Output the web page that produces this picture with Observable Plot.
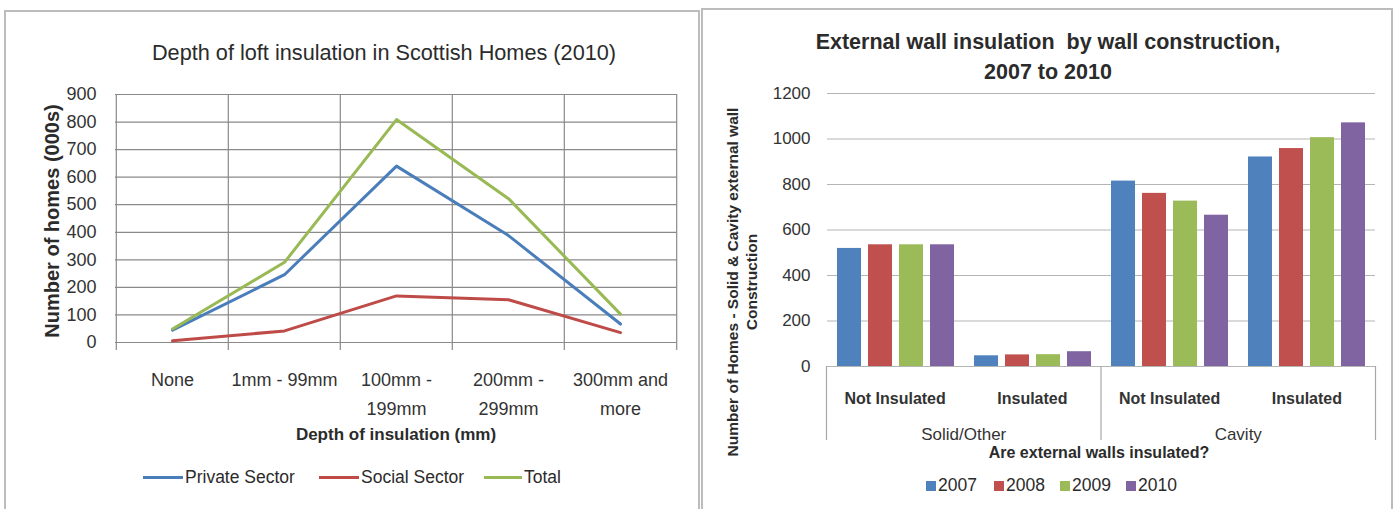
<!DOCTYPE html>
<html>
<head>
<meta charset="utf-8">
<script src="https://cdn.jsdelivr.net/npm/d3@7"></script>
<script src="https://cdn.jsdelivr.net/npm/@observablehq/plot@0.6"></script>
<style>
  body { margin: 0; background: #fff; }
  #root { position: relative; width: 1398px; height: 509px; overflow: hidden;
          font-family: "Liberation Sans", Arial, sans-serif; color: #2b2b2b; }
  .panel { position: absolute; border: 2px solid #bcbcbc; box-sizing: border-box; }
  .t { position: absolute; white-space: pre; line-height: 1; }
  .abs { position: absolute; }
  .abs svg { display: block; }
</style>
</head>
<body>
<div id="root"></div>
<script>
// ---------- Left chart data ----------
const depthCategories = ["None", "1mm - 99mm", "100mm -\n199mm", "200mm -\n299mm", "300mm and\nmore"];
const seriesNames = ["Private Sector", "Social Sector", "Total"];
const privateSector = [45, 246, 640, 388, 67];
const socialSector = [6, 42, 169, 155, 36];
const totalHomes = [49, 291, 809, 522, 103];
const leftYTicks = [0, 100, 200, 300, 400, 500, 600, 700, 800, 900];
const lineColors = ["#4a7ebb", "#be4b48", "#98b954"];

// ---------- Right chart data ----------
const wallConstruction = ["Solid/Other", "Cavity"];
const insulationStatus = ["Not Insulated", "Insulated"];
const years = ["2007", "2008", "2009", "2010"];
const solidNotInsulated = [519, 535, 535, 535];
const solidInsulated = [47, 51, 52, 65];
const cavityNotInsulated = [815, 761, 727, 665];
const cavityInsulated = [921, 958, 1006, 1071];
const rightYTicks = [0, 200, 400, 600, 800, 1000, 1200];
const barColors = ["#4f81bd", "#c0504d", "#9bbb59", "#8064a2"];

const FONT = '"Liberation Sans", Arial, sans-serif';
const root = document.getElementById("root");

function panel(left, top, width, height) {
  const d = document.createElement("div");
  d.className = "panel";
  Object.assign(d.style, {left: left + "px", top: top + "px", width: width + "px", height: height + "px"});
  root.appendChild(d);
}
function addText(str, {x, baseline, size, weight = "normal", anchor = "middle", color}) {
  const d = document.createElement("div");
  d.className = "t";
  d.textContent = str;
  d.style.fontSize = size + "px";
  d.style.fontWeight = weight;
  if (color) d.style.color = color;
  d.style.top = (baseline - 0.85 * size) + "px";
  d.style.left = x + "px";
  if (anchor === "middle") d.style.transform = "translateX(-50%)";
  root.appendChild(d);
  return d;
}
function addRotated(str, {cx, cy, size, lh, weight = "bold"}) {
  const d = document.createElement("div");
  d.className = "t";
  d.textContent = str;
  Object.assign(d.style, {fontSize: size + "px", fontWeight: weight, lineHeight: lh + "px",
    textAlign: "center", left: cx + "px", top: cy + "px",
    transform: "translate(-50%,-50%) rotate(-90deg)"});
  root.appendChild(d);
}
function mount(node, left, top) {
  const w = document.createElement("div");
  w.className = "abs";
  w.style.left = left + "px";
  w.style.top = top + "px";
  w.appendChild(node);
  root.appendChild(w);
}

panel(4, 10, 696, 520);
panel(701, 8, 692, 520);

// ---------- Left chart ----------
const seriesValues = [privateSector, socialSector, totalHomes];
const leftRows = seriesNames.flatMap((s, k) =>
  depthCategories.map((c, i) => ({series: s, category: c, value: seriesValues[k][i]})));

const LW = 700, LH = 420, LML = 115, LMR = 23, LMT = 94, LMB = 78;
const step = (LW - LML - LMR) / depthCategories.length;

const leftPlot = Plot.plot({
  width: LW, height: LH,
  marginLeft: LML, marginRight: LMR, marginTop: LMT, marginBottom: LMB,
  style: {fontFamily: FONT, fontSize: "18px", color: "#333", background: "transparent", overflow: "visible"},
  x: {type: "point", domain: depthCategories, padding: 0.5},
  y: {domain: [0, 900]},
  color: {domain: seriesNames, range: lineColors},
  marks: [
    Plot.ruleY(leftYTicks, {stroke: "#8a8a8a", strokeWidth: 1.2}),
    Plot.ruleX(depthCategories, {x: d => d, dx: -step / 2, insetBottom: -8, stroke: "#8a8a8a", strokeWidth: 1.2}),
    Plot.ruleX(depthCategories.slice(-1), {x: d => d, dx: step / 2, insetBottom: -8, stroke: "#8a8a8a", strokeWidth: 1.2}),
    Plot.line(leftRows, {x: "category", y: "value", z: "series", stroke: "series", strokeWidth: 3}),
    Plot.axisY({ticks: leftYTicks, tickSize: 0, tickPadding: 19, label: null, fontSize: 18}),
    Plot.axisX({tickSize: 0, tickPadding: 23, label: null, fontSize: 18, lineHeight: 1.6})
  ]
});
mount(leftPlot, 0, 0);

addText("Depth of loft insulation in Scottish Homes (2010)", {x: 384, baseline: 60, size: 21.7});
addRotated("Number of homes (000s)", {cx: 52, cy: 221, size: 20, lh: 20});
addText("Depth of insulation (mm)", {x: 396, baseline: 440, size: 17, weight: "bold"});

// left legend
const legendLeft = [
  {name: seriesNames[0], x1: 143, x2: 183},
  {name: seriesNames[1], x1: 319, x2: 359},
  {name: seriesNames[2], x1: 484, x2: 522}
];
legendLeft.forEach((item, i) => {
  const ln = document.createElement("div");
  ln.className = "abs";
  Object.assign(ln.style, {left: item.x1 + "px", top: "476px", width: (item.x2 - item.x1) + "px",
    height: "3px", background: lineColors[i]});
  root.appendChild(ln);
  addText(item.name, {x: item.x2 + 2, baseline: 484, size: 17.5, anchor: "start"});
});

// ---------- Right chart ----------
const groupValues = [solidNotInsulated, solidInsulated, cavityNotInsulated, cavityInsulated];
const groupKeys = [];
wallConstruction.forEach(w => insulationStatus.forEach(s => groupKeys.push(w + " | " + s)));
const barRows = groupKeys.flatMap((g, gi) =>
  years.map((y, yi) => ({group: g, year: y, value: groupValues[gi][yi]})));

const rightPlot = Plot.plot({
  width: 698, height: 450,
  marginLeft: 126, marginRight: 23, marginTop: 93, marginBottom: 84,
  style: {fontFamily: FONT, fontSize: "17px", color: "#333", background: "transparent"},
  facet: {data: barRows, x: "group"},
  fx: {domain: groupKeys, padding: 0, axis: null, label: null},
  x: {domain: years, paddingInner: 0.23, paddingOuter: 0.31, axis: null},
  y: {domain: [0, 1200], ticks: rightYTicks, tickSize: 0, tickPadding: 17, label: null, tickFormat: d => String(d)},
  color: {domain: years, range: barColors},
  marks: [
    Plot.ruleY(rightYTicks, {stroke: "#b5b5b5", strokeWidth: 1.2}),
    Plot.barY(barRows, {x: "year", y: "value", fill: "year"})
  ]
});
mount(rightPlot, 700, 0);

// hierarchical category axis
const subLabelRows = groupKeys.map((g, i) => ({pos: i + 0.5, label: insulationStatus[i % insulationStatus.length]}));
const constructionRows = wallConstruction.map((w, j) => ({pos: (j + 0.5) * insulationStatus.length, label: w}));
const axisPlot = Plot.plot({
  width: 698, height: 92,
  marginLeft: 126, marginRight: 23, marginTop: 0, marginBottom: 0,
  style: {fontFamily: FONT, fontSize: "16px", color: "#333", background: "transparent"},
  x: {domain: [0, groupKeys.length], axis: null},
  marks: [
    Plot.ruleX(d3.range(0, groupKeys.length + 1, insulationStatus.length), {stroke: "#a8a8a8", strokeWidth: 1.2, insetBottom: 18}),
    Plot.text(subLabelRows, {x: "pos", text: "label", frameAnchor: "top", dy: 26, fontWeight: "bold", fontSize: 16, fill: "#333"}),
    Plot.text(constructionRows, {x: "pos", text: "label", frameAnchor: "top", dy: 61, fontSize: 17, fill: "#333"})
  ]
});
mount(axisPlot, 700, 366);

addText("External wall insulation  by wall construction,", {x: 1048, baseline: 50, size: 21.5, weight: "bold"});
addText("2007 to 2010", {x: 1048, baseline: 80, size: 21.5, weight: "bold"});
addRotated("Number of Homes - Solid & Cavity external wall\nConstruction", {cx: 742, cy: 282, size: 15.5, lh: 19});
addText("Are external walls insulated?", {x: 1099, baseline: 459, size: 16, weight: "bold"});

// right legend
const legendRightX = [926, 994, 1060, 1126];
years.forEach((y, i) => {
  const sq = document.createElement("div");
  sq.className = "abs";
  Object.assign(sq.style, {left: legendRightX[i] + "px", top: "481px", width: "10px", height: "10px", background: barColors[i]});
  root.appendChild(sq);
  addText(y, {x: legendRightX[i] + 12, baseline: 492, size: 17.5, anchor: "start"});
});
</script>
</body>
</html>
